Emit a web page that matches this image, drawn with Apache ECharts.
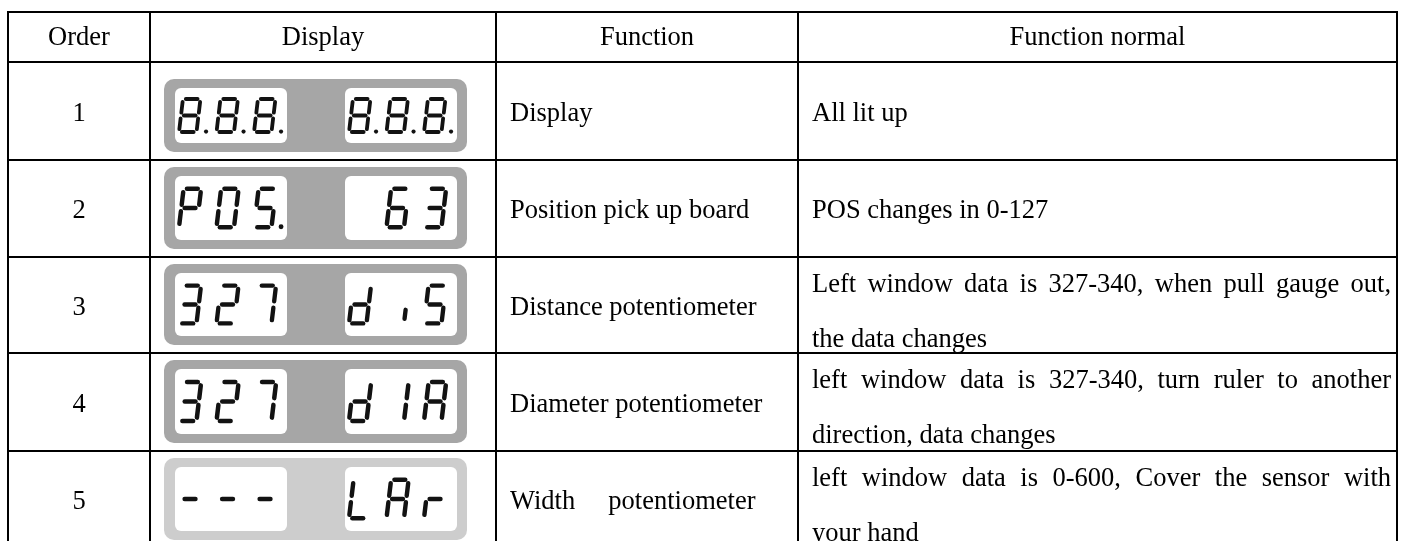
<!DOCTYPE html>
<html>
<head>
<meta charset="utf-8">
<script src="https://cdn.jsdelivr.net/npm/echarts@6/dist/echarts.min.js"></script>
<style>
html,body{margin:0;padding:0;background:#ffffff;}
#chart{width:1405px;height:541px;}
</style>
</head>
<body>
<div id="chart"></div>
<script>
// ---------------- data ----------------
const headers = ['Order', 'Display', 'Function', 'Function normal'];
const orders = ['1', '2', '3', '4', '5'];
const leftWindow = ['8.8.8.', 'P0S.', '327', '327', '---'];
const rightWindow = ['8.8.8.', ' 63', 'diS', 'd1A', 'LAr'];
const functions = [
  'Display',
  'Position pick up board',
  'Distance potentiometer',
  'Diameter potentiometer',
  'Width     potentiometer'
];
const normals = [
  ['All lit up'],
  ['POS changes in 0-127'],
  ['Left window data is 327-340, when pull gauge out,', 'the data changes'],
  ['left window data is 327-340, turn ruler to another', 'direction, data changes'],
  ['left window data is 0-600, Cover the sensor with', 'your hand']
];

// ---------------- layout / style ----------------
const W = 1405, H = 541;
const colEdges = [8, 150, 496, 798, 1397];
const rowEdges = [12, 62, 160, 257, 353, 451, 548];
const TEXT_SIZE = 26.5;
const FONT_FAMILY = '"Liberation Serif", "Times New Roman", serif';
const LINE_W = 2;
const panelX = [164, 467];
const windowX = [[175, 287], [345, 457]];
const SEGMENTS = {
  '8': 'abcdefg', '0': 'abcdef', 'P': 'abefg', 'S': 'acdfg', '3': 'abcdg',
  '2': 'abdeg', '7': 'abc', '6': 'acdefg', 'd': 'bcdeg', 'i': 'j', '1': 'bc',
  'A': 'abcefg', 'L': 'def', 'r': 'eg', '-': 'g', ' ': ''
};

const measureCtx = document.createElement('canvas').getContext('2d');
measureCtx.font = TEXT_SIZE + 'px "Liberation Serif"';

function textEl(api, str, x, y, align) {
  const p = api.coord([x, y]);
  return {
    type: 'text',
    style: {
      text: str, x: p[0], y: p[1], fill: '#000000',
      fontFamily: FONT_FAMILY, fontSize: TEXT_SIZE,
      align: align, textAlign: align,
      verticalAlign: 'middle', textVerticalAlign: 'middle'
    }
  };
}

function lineEl(api, x1, y1, x2, y2, width, color, cap) {
  const a = api.coord([x1, y1]), b = api.coord([x2, y2]);
  return {
    type: 'line',
    shape: {x1: a[0], y1: a[1], x2: b[0], y2: b[1]},
    style: {stroke: color, lineWidth: width, lineCap: cap || 'butt'}
  };
}

function rectEl(api, x1, y1, x2, y2, r, fill) {
  const a = api.coord([x1, y1]), b = api.coord([x2, y2]);
  return {
    type: 'rect',
    shape: {x: a[0], y: a[1], width: b[0] - a[0], height: b[1] - a[1], r: r},
    style: {fill: fill}
  };
}

function parseSlots(str) {
  const slots = [];
  for (const ch of str) {
    if (ch === '.' && slots.length) slots[slots.length - 1].dot = true;
    else slots.push({ch: ch, dot: false});
  }
  return slots;
}

function drawDigits(children, api, str, wx0, wTop, wBot) {
  const wh = wBot - wTop;
  const h = 0.6 * wh, w = 17.5, t = 0.115 * h, s = 0.12, g = 0.75 * t;
  const y0 = wTop + (wh - h) / 2;
  const color = '#121212';
  parseSlots(str).forEach((slot, k) => {
    const x0 = wx0 + 4 + k * 37.5;
    const P = (u, v) => [x0 + u + (h - v) * s, y0 + v];
    const segs = {
      a: [[g, 0], [w - g, 0]],
      b: [[w, g], [w, h / 2 - g]],
      c: [[w, h / 2 + g], [w, h - g]],
      d: [[g, h], [w - g, h]],
      e: [[0, h / 2 + g], [0, h - g]],
      f: [[0, g], [0, h / 2 - g]],
      g: [[g, h / 2], [w - g, h / 2]],
      j: [[w, h * 0.64], [w, h - g * 1.4]]
    };
    const on = SEGMENTS[slot.ch] || '';
    for (const name of on) {
      const seg = segs[name];
      const p1 = P(seg[0][0], seg[0][1]), p2 = P(seg[1][0], seg[1][1]);
      children.push(lineEl(api, p1[0], p1[1], p2[0], p2[1], t, color, 'round'));
    }
    if (slot.dot) {
      const c = api.coord(P(w + 9.5, h - t * 0.1));
      children.push({type: 'circle', shape: {cx: c[0], cy: c[1], r: t * 0.55}, style: {fill: color}});
    }
  });
}

function pushJustified(children, api, line, x0, x1, y) {
  const words = line.split(' ');
  const widths = words.map(wd => measureCtx.measureText(wd).width);
  const total = widths.reduce((a, b) => a + b, 0);
  const gap = (x1 - x0 - total) / (words.length - 1);
  let x = x0;
  words.forEach((wd, k) => {
    children.push(textEl(api, wd, x, y, 'left'));
    x += widths[k] + gap;
  });
}

function renderFrame(params, api) {
  const children = [];
  const yTop = rowEdges[0], yBot = rowEdges[rowEdges.length - 1];
  const xL = colEdges[0], xR = colEdges[colEdges.length - 1];
  colEdges.forEach(x => children.push(lineEl(api, x, yTop - 1, x, yBot, LINE_W, '#000000')));
  rowEdges.forEach(y => children.push(lineEl(api, xL - 1, y, xR + 1, y, LINE_W, '#000000')));
  headers.forEach((hd, j) => {
    const cx = (colEdges[j] + colEdges[j + 1]) / 2;
    children.push(textEl(api, hd, cx, (rowEdges[0] + rowEdges[1]) / 2 + 1, 'center'));
  });
  return {type: 'group', children: children};
}

function renderRow(params, api) {
  const i = api.value(0);
  const children = [];
  const top = rowEdges[i + 1], bot = rowEdges[i + 2];
  const mid = (top + bot) / 2 + 3;
  // order
  children.push(textEl(api, orders[i], (colEdges[0] + colEdges[1]) / 2, mid, 'center'));
  // display panel
  const pTop = top + (i === 0 ? 17 : 7), pBot = bot - 8;
  const panelFill = i === 4 ? '#cdcdcd' : '#a6a6a6';
  children.push(rectEl(api, panelX[0], pTop, panelX[1], pBot, 10, panelFill));
  const wTop = pTop + 9, wBot = pBot - 9;
  [leftWindow[i], rightWindow[i]].forEach((str, k) => {
    children.push(rectEl(api, windowX[k][0], wTop, windowX[k][1], wBot, 6, '#ffffff'));
    drawDigits(children, api, str, windowX[k][0], wTop, wBot);
  });
  // function
  children.push(textEl(api, functions[i], colEdges[2] + 14, mid, 'left'));
  // function normal
  const lines = normals[i];
  const nx0 = colEdges[3] + 14, nx1 = colEdges[4] - 6;
  if (lines.length === 1) {
    children.push(textEl(api, lines[0], nx0, mid, 'left'));
  } else {
    lines.forEach((ln, k) => {
      const y = top + 28 + k * 55;
      if (k < lines.length - 1) pushJustified(children, api, ln, nx0, nx1, y);
      else children.push(textEl(api, ln, nx0, y, 'left'));
    });
  }
  return {type: 'group', children: children};
}

const chart = echarts.init(document.getElementById('chart'), null, {renderer: 'canvas'});
chart.setOption({
  backgroundColor: '#ffffff',
  animation: false,
  grid: {left: 0, right: 0, top: 0, bottom: 0},
  xAxis: {type: 'value', min: 0, max: W, show: false},
  yAxis: {type: 'value', min: 0, max: H, inverse: true, show: false},
  series: [
    {type: 'custom', name: 'rows', data: orders.map((o, i) => [i, 0]), renderItem: renderRow, silent: true, clip: false},
    {type: 'custom', name: 'frame', data: [[0, 0]], renderItem: renderFrame, silent: true, clip: false, z: 3}
  ]
});
</script>
</body>
</html>
